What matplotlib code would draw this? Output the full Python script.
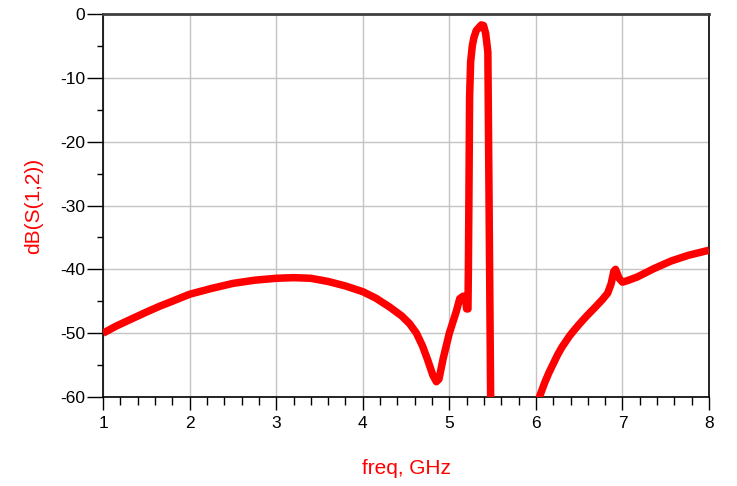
import matplotlib
matplotlib.use("Agg")
import matplotlib.pyplot as plt
from matplotlib.ticker import MultipleLocator

# frequency (GHz) and dB(S(1,2))
freq = [1.00, 1.15, 1.34, 1.50, 1.65, 1.80, 2.00, 2.25, 2.50, 2.75, 3.00,
        3.20, 3.40, 3.60, 3.80, 4.00, 4.15, 4.31, 4.45, 4.54, 4.62, 4.69,
        4.75, 4.81, 4.85, 4.88, 4.93, 5.00, 5.08, 5.12, 5.16, 5.19, 5.20,
        5.215, 5.22, 5.226, 5.234, 5.246, 5.265, 5.284, 5.31, 5.342, 5.37,
        5.395, 5.419, 5.438, 5.445, 5.477, 5.49, 5.70, 5.90, 6.00, 6.04,
        6.10, 6.15, 6.20, 6.25, 6.30, 6.39, 6.45, 6.50, 6.58, 6.68, 6.77,
        6.83, 6.87, 6.90, 6.92, 6.96, 7.00, 7.05, 7.17, 7.36, 7.56, 7.76,
        8.00]
s12_db = [-50.0, -48.9, -47.7, -46.7, -45.8, -45.0, -43.9, -43.0, -42.2,
          -41.7, -41.4, -41.3, -41.4, -41.9, -42.6, -43.5, -44.5, -45.9,
          -47.3, -48.5, -50.0, -52.0, -54.2, -56.6, -57.6, -57.2, -53.9,
          -50.0, -46.6, -44.6, -44.2, -45.0, -46.2, -46.2, -40.0, -29.0,
          -13.0, -7.5, -5.0, -3.7, -2.6, -2.1, -1.7, -1.8, -3.0, -5.1,
          -6.0, -60.0, -80.0, -80.0, -72.0, -64.0, -60.0, -57.8, -56.2,
          -54.8, -53.4, -52.2, -50.4, -49.4, -48.6, -47.4, -46.0, -44.7,
          -43.7, -42.2, -40.3, -40.0, -41.4, -42.0, -41.8, -41.2, -39.9,
          -38.7, -37.8, -37.0]

x_ticks = [1, 2, 3, 4, 5, 6, 7, 8]
y_ticks = [0, -10, -20, -30, -40, -50, -60]

plt.rcParams['font.family'] = ['Liberation Sans', 'DejaVu Sans']
plt.rcParams['axes.unicode_minus'] = False

fig = plt.figure(figsize=(7.37, 4.86), dpi=100)
ax = fig.add_axes([0.1398, 0.1831, 0.8223, 0.7880])

ax.plot(freq, s12_db, color='#ff0000', linewidth=5.4, solid_joinstyle='round',
        solid_capstyle='butt', zorder=3)

ax.set_xlim(1, 8)
ax.set_ylim(-60, 0)
ax.set_xticks(x_ticks)
ax.set_yticks(y_ticks)
ax.xaxis.set_minor_locator(MultipleLocator(0.2))
ax.yaxis.set_minor_locator(MultipleLocator(5))

ax.grid(True, which='major', color='#c4c4c4', linewidth=1.0, zorder=0)
ax.set_axisbelow(True)

ax.tick_params(axis='x', which='major', direction='out', length=9.5,
               width=1.0, labelsize=12.5, pad=4.5, colors='black')
ax.tick_params(axis='x', which='minor', direction='out', length=5.5,
               width=1.0)
ax.tick_params(axis='y', which='major', direction='out', length=11.5,
               width=1.0, labelsize=12.5, pad=1.5, colors='black')
ax.tick_params(axis='y', which='minor', direction='out', length=4.5,
               width=1.0)

for side in ['left', 'bottom', 'right']:
    ax.spines[side].set_color('black')
    ax.spines[side].set_linewidth(1.2)
ax.spines['top'].set_color('#404040')
ax.spines['top'].set_linewidth(2.0)

ax.set_xlabel('freq, GHz', color='#ff0000', fontsize=15, labelpad=20)
ax.set_ylabel('dB(S(1,2))', color='#ff0000', fontsize=15, labelpad=12)

fig.savefig('out.png', dpi=100)
